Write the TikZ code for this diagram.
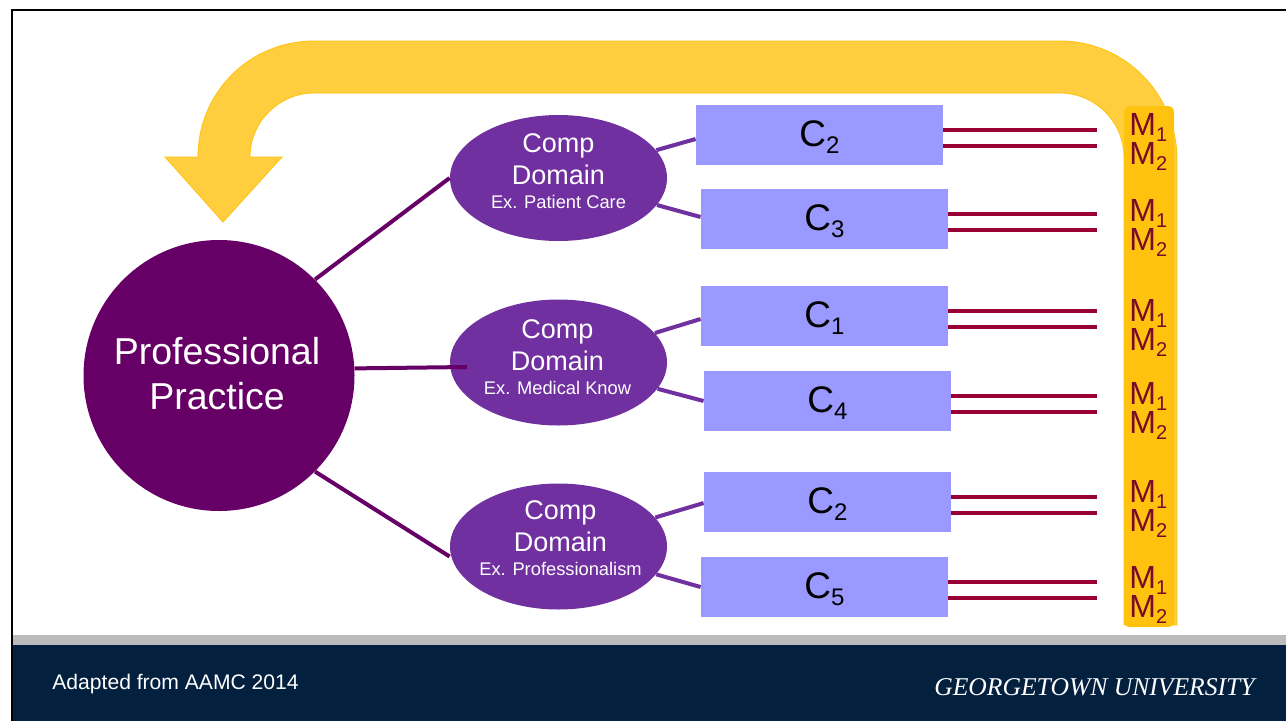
\documentclass[tikz,border=0pt]{standalone}
\usepackage{fontspec}
\usetikzlibrary{shapes.geometric}
\setmainfont{Liberation Sans}
\newfontfamily\gufont{Liberation Serif}
\definecolor{ppurple}{HTML}{660066}
\definecolor{dpurple}{HTML}{7030A0}
\definecolor{cblue}{HTML}{9999FF}
\definecolor{mred}{HTML}{990033}
\definecolor{mtext}{HTML}{7A0A2C}
\definecolor{gold}{HTML}{FFC20E}
\definecolor{navy}{HTML}{03203F}
\definecolor{barg}{HTML}{BABBBA}
\newcommand{\fs}[1]{\fontsize{#1}{#1}\selectfont}
\newcommand{\lowsub}[3]{#1{\fs{#3}\raisebox{-6.5pt}{#2}}}
\newcommand{\domtext}[1]{Comp\\[1pt]Domain\\[-7pt]{\fs{18.3}#1}}
\begin{document}
\begin{tikzpicture}[x=1pt,y=-1pt,thick,
  main node/.style={circle,fill=ppurple,minimum size=271pt,inner sep=0pt},
  main text/.style={text=white,align=center,inner sep=0pt,font=\fs{37.5}},
  domain node/.style={ellipse,fill=dpurple,minimum width=217pt,minimum height=126pt,inner sep=0pt},
  domain text/.style={text=white,align=center,inner sep=0pt,font=\fontsize{27}{31}\selectfont},
  comp node/.style={rectangle,fill=cblue,minimum width=247pt,minimum height=60pt,inner sep=0pt,text height=30pt,text depth=7pt,font=\fs{37}},
  m node/.style={anchor=base west,inner sep=0pt,text=mtext,align=left,font=\fontsize{32}{29}\selectfont},
  main line/.style={draw=ppurple,line width=4pt},
  comp line/.style={draw=dpurple,line width=4pt},
  m line/.style={draw=mred,line width=4pt}]
\useasboundingbox (0,0) rectangle (1286,721);
%frame and footer
  \fill[white] (0,0) rectangle (1286,721);
  \fill[barg] (13,635) rectangle (1286,645);
  \fill[navy] (13,645) rectangle (1286,721);
  \draw[black,line width=2pt] (12,721) -- (12,10) -- (1286,10);
%gold column and arrow
  \fill[gold,rounded corners=6pt] (1124,106) rectangle (1174,627);
  \path[fill=gold,fill opacity=.8,draw=gold,line width=.8pt]
    (1177,625) -- (1177,160) .. controls (1177,94) and (1125,41) .. (1060,41)
    -- (314,41) .. controls (250,41) and (198,92) .. (198,157)
    -- (165,157) -- (223,222) -- (282,157) -- (250,157)
    .. controls (250,121) and (280,93) .. (314,93)
    -- (1060,93) .. controls (1095,93) and (1124,122) .. (1124,157)
    -- (1124,625) -- cycle;
%practice
  \node[main node] (pp) at (219,375.5) {};
  \node[main text] (pp text) at ([xshift=-2pt,yshift=2pt]pp) {Professional\\[8pt]Practice};
%domains
  \node[domain node] (d2) [right of=pp,node distance=339.5pt,yshift=13pt] {};
  \node[domain node] (d1) [above of=d2,node distance=184.5pt] {};
  \node[domain node] (d3) [below of=d2,node distance=184pt] {};
  \node[domain text] (t1) at ([yshift=7pt]d1) {\domtext{Ex. Patient Care}};
  \node[domain text] (t2) at ([xshift=-1pt,yshift=5pt]d2) {\domtext{Ex. Medical Know}};
  \node[domain text] (t3) at ([xshift=2pt,yshift=8pt]d3) {\domtext{Ex. Professionalism}};
%comps
  \node[comp node] (c2a) [right of=d1,node distance=261pt,yshift=43pt] {\lowsub{C}{2}{24}};
  \node[comp node] (c3) [right of=d1,node distance=266pt,yshift=-41pt] {\lowsub{C}{3}{24}};
  \node[comp node] (c1) [right of=d2,node distance=266pt,yshift=46.5pt] {\lowsub{C}{1}{24}};
  \node[comp node] (c4) [right of=d2,node distance=269pt,yshift=-38.5pt] {\lowsub{C}{4}{24}};
  \node[comp node] (c2b) [right of=d3,node distance=269pt,yshift=44.5pt] {\lowsub{C}{2}{24}};
  \node[comp node] (c5) [right of=d3,node distance=266pt,yshift=-40.5pt] {\lowsub{C}{5}{24}};
%measures
  \foreach \n/\y in {1/164,2/250,3/350,4/433,5/531,6/617}
    \node[m node] (m\n) at (1129,\y) {\lowsub{M}{1}{20}\\\lowsub{M}{2}{20}};
%paths
  \coordinate (rail) at (1097,0);
  \coordinate (d2 end) at (467,367);
  \path[main line] (pp.45) edge (d1.west)
    (pp.3.5) edge (d2 end)
    (pp.-45) edge ([yshift=-10pt]d3.west);
  \path[comp line]
    (d1) edge ([yshift=-4pt]c2a.west)
         edge ([yshift=2pt]c3.west)
    (d2) edge ([yshift=-3pt]c1.west)
         edge (c4.west)
    (d3) edge ([yshift=-1pt]c2b.west)
         edge (c5.west);
  \foreach \n in {c2a,c3,c1,c4,c2b,c5} {
    \draw[m line] ([yshift=5pt]\n.east) -- ([yshift=5pt]\n.east -| rail);
    \draw[m line] ([yshift=-11pt]\n.east) -- ([yshift=-11pt]\n.east -| rail);
  }
%footer text
  \node[anchor=base west,inner sep=0pt,text=white,font=\fs{21.1}] (src) at (52,689) {Adapted from AAMC 2014};
  \node[anchor=base east,inner sep=0pt,text=white,font=\fs{25.6}\gufont\itshape] (gu) at (1255,695) {GEORGETOWN UNIVERSITY};
\end{tikzpicture}
\end{document}
